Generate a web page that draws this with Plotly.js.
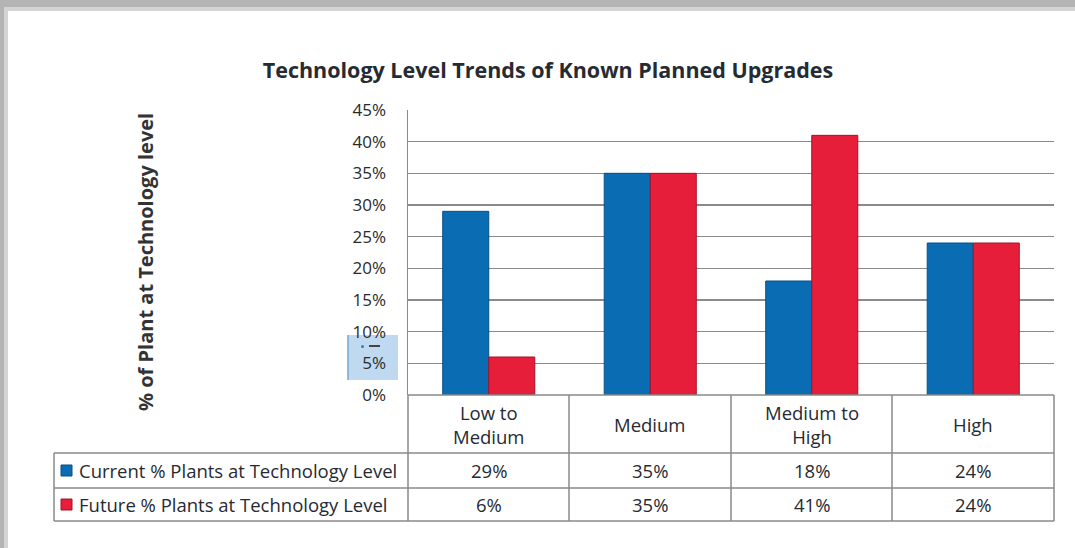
<!DOCTYPE html>
<html>
<head>
<meta charset="utf-8">
<script src="https://cdn.plot.ly/plotly-3.0.1.min.js"></script>
<style>html,body{margin:0;padding:0;background:#fff;}#chart{width:1075px;height:548px;}</style>
</head>
<body>
<div id="chart"></div>
<script>
const categories = ["Low to Medium", "Medium", "Medium to High", "High"];
const categoryLabels = ["Low to<br>Medium", "Medium", "Medium to<br>High", "High"];
const seriesNames = ["Current % Plants at Technology Level", "Future % Plants at Technology Level"];
const currentValues = [0.29, 0.35, 0.18, 0.24];
const futureValues = [0.06, 0.35, 0.41, 0.24];
const yTickValues = [0, 0.05, 0.10, 0.15, 0.20, 0.25, 0.30, 0.35, 0.40, 0.45];

const W = 1075, H = 548;
const xp = px => px / W;
const yp = py => 1 - py / H;
const FONT = "'Open Sans', Lato, sans-serif";
const BLUE = "#0a6cb3", BLUE_D = "#064f85";
const RED = "#e61e3a", RED_D = "#a3122a";
const GRID = "#8a8a8a";
const TXT = "#262a33";

const traces = [
  {type: "bar", name: seriesNames[0], x: categories, y: currentValues,
   marker: {color: BLUE, line: {color: BLUE_D, width: 1}}},
  {type: "bar", name: seriesNames[1], x: categories, y: futureValues,
   marker: {color: RED, line: {color: RED_D, width: 1}}}
];

// table geometry (pixels)
const tL = 54, tR = 1054, colL = 408;
const rHeadTop = 395, rHeadBot = 453, r1Bot = 488, r2Bot = 521;
const colEdges = [408, 569, 731, 892, 1054];

const shapes = [];
const line = (x0, y0, x1, y1) => shapes.push({type: "line", xref: "paper", yref: "paper",
  x0: xp(x0), y0: yp(y0), x1: xp(x1), y1: yp(y1), line: {color: GRID, width: 1.5}, layer: "above"});
// frame shadow
shapes.push({type: "rect", xref: "paper", yref: "paper", x0: 0, x1: 1, y0: yp(11), y1: 1,
  fillcolor: "#d4d4d4", line: {width: 0}, layer: "below"});
shapes.push({type: "rect", xref: "paper", yref: "paper", x0: 0, x1: xp(8), y0: 0, y1: 1,
  fillcolor: "#d4d4d4", line: {width: 0}, layer: "below"});
shapes.push({type: "rect", xref: "paper", yref: "paper", x0: 0, x1: 1, y0: yp(7), y1: 1,
  fillcolor: "#b4b4b4", line: {width: 0}, layer: "below"});
shapes.push({type: "rect", xref: "paper", yref: "paper", x0: 0, x1: xp(4), y0: 0, y1: 1,
  fillcolor: "#b4b4b4", line: {width: 0}, layer: "below"});
// table lines
colEdges.forEach(x => line(x, rHeadTop, x, r2Bot));
line(tL, rHeadBot, tL, r2Bot);
line(tL, rHeadBot, tR, rHeadBot);
line(tL, r1Bot, tR, r1Bot);
line(tL, r2Bot, tR, r2Bot);
line(colL, rHeadTop, tR, rHeadTop);
// legend keys
shapes.push({type: "rect", xref: "paper", yref: "paper", x0: xp(61), x1: xp(72), y0: yp(476), y1: yp(465),
  fillcolor: BLUE, line: {color: BLUE_D, width: 1}});
shapes.push({type: "rect", xref: "paper", yref: "paper", x0: xp(61), x1: xp(72), y0: yp(510), y1: yp(499),
  fillcolor: RED, line: {color: RED_D, width: 1}});
// selection artifact near 5% label
shapes.push({type: "rect", xref: "paper", yref: "paper", x0: xp(348), x1: xp(398), y0: yp(380), y1: yp(335),
  fillcolor: "rgba(170,205,235,0.75)", line: {width: 0}, layer: "below"});
shapes.push({type: "line", xref: "paper", yref: "paper", x0: xp(348), x1: xp(348), y0: yp(380), y1: yp(335),
  line: {color: "#7aa6d0", width: 1.5}});
shapes.push({type: "line", xref: "paper", yref: "paper", x0: xp(369), x1: xp(380), y0: yp(346), y1: yp(346),
  line: {color: "#444", width: 2}});
shapes.push({type: "circle", xref: "paper", yref: "paper", x0: xp(361), x1: xp(364), y0: yp(348), y1: yp(345),
  fillcolor: "#3a78c0", line: {width: 0}});

const annotations = [];
const ann = (o) => annotations.push(Object.assign({showarrow: false, xanchor: "center", yanchor: "middle",
  font: {family: FONT, size: 18.5, color: TXT}}, o));
ann({xref: "paper", yref: "paper", x: xp(145), y: yp(262), text: "% of Plant at Technology level",
  textangle: -90, font: {family: FONT, size: 20, color: "#333", weight: "bold"}});
categories.forEach((c, i) => {
  ann({xref: "x", yref: "paper", x: c, y: yp((rHeadTop + rHeadBot) / 2), text: categoryLabels[i]});
  ann({xref: "x", yref: "paper", x: c, y: yp((rHeadBot + r1Bot) / 2), text: Math.round(currentValues[i] * 100) + "%"});
  ann({xref: "x", yref: "paper", x: c, y: yp((r1Bot + r2Bot) / 2), text: Math.round(futureValues[i] * 100) + "%"});
});
ann({xref: "paper", yref: "paper", x: xp(77), xanchor: "left", y: yp((rHeadBot + r1Bot) / 2), text: seriesNames[0]});
ann({xref: "paper", yref: "paper", x: xp(77), xanchor: "left", y: yp((r1Bot + r2Bot) / 2), text: seriesNames[1]});

const layout = {
  width: W, height: H,
  margin: {l: 0, r: 0, t: 0, b: 0},
  paper_bgcolor: "#fff", plot_bgcolor: "rgba(0,0,0,0)",
  showlegend: false,
  barmode: "group", bargap: 0.43, bargroupgap: 0,
  title: {text: "Technology Level Trends of Known Planned Upgrades", x: xp(548), xanchor: "center",
    y: yp(70), yanchor: "middle", font: {family: FONT, size: 21.5, color: TXT, weight: "bold"}},
  xaxis: {domain: [xp(408), xp(1054)], type: "category", showticklabels: false, showgrid: false,
    zeroline: false, showline: false, fixedrange: true},
  yaxis: {domain: [yp(395), yp(110)], range: [0, 0.45], tickvals: yTickValues, tickformat: ".0%",
    showgrid: true, gridcolor: GRID, gridwidth: 1.5, zeroline: false, showline: true, linecolor: GRID, linewidth: 1.5,
    ticks: "", ticklabelstandoff: 17, tickfont: {family: FONT, size: 17, color: "#2a2a2a"}, fixedrange: true},
  shapes: shapes,
  annotations: annotations
};

Plotly.newPlot("chart", traces, layout, {displayModeBar: false, staticPlot: true});
</script>
</body>
</html>
